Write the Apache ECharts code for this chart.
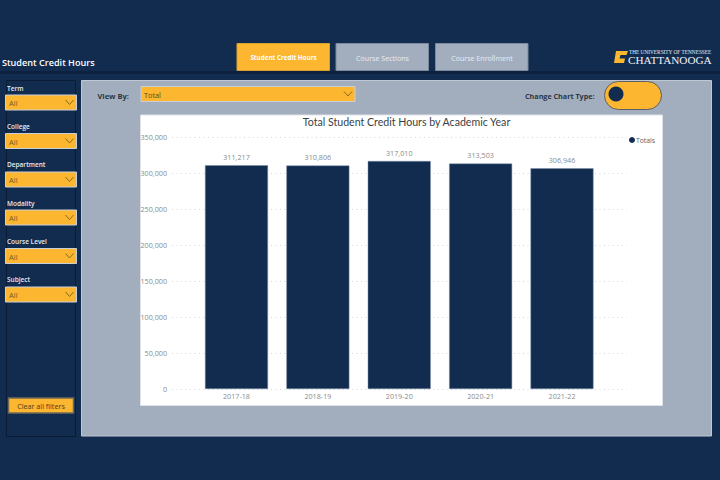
<!DOCTYPE html>
<html><head><meta charset="utf-8">
<style>html,body{margin:0;padding:0;background:#122c50}#c{width:720px;height:480px}</style>
<script src="https://cdn.jsdelivr.net/npm/echarts@6/dist/echarts.min.js"></script>
</head><body><div id="c"></div>
<script>
const categories = ['2017-18','2018-19','2019-20','2020-21','2021-22'];
const totals = [311217,310806,317010,313503,306946];
const seriesName = 'Totals';
const chartTitle = 'Total Student Credit Hours by Academic Year';
const slicerLabels = ['Term','College','Department','Modality','Course Level','Subject'];
const slicerValue = 'All';
const tabLabels = ['Student Credit Hours','Course Sections','Course Enrollment'];

const NAVY='#122c50', PANEL='#a2aebe', ORANGE='#fdb62f', FONT='"Open Sans","Noto Sans",sans-serif', GREY='#8b8b8b';
const g=[];
const rect=(x,y,w,h,fill,stroke,r,lw)=>g.push({type:'rect',z:-5,silent:true,shape:{x,y,width:w,height:h,r:r||0},style:{fill,stroke:stroke||null,lineWidth:lw||1}});
const txt=(x,y,text,size,fill,weight,align)=>g.push({type:'text',z:-1,silent:true,x,y,style:{text,fontSize:size,fill,fontWeight:weight||'normal',fontFamily:FONT,align:align||'left',verticalAlign:'middle'}});
const chev=(cx,cy)=>g.push({type:'polyline',z:-1,silent:true,shape:{points:[[cx-4,cy-2.5],[cx,cy+2],[cx+4,cy-2.5]]},style:{stroke:'#8a6a20',lineWidth:1,fill:null}});

// header
rect(0,71,720,3,'#0c2040');
txt(2,62.5,'Student Credit Hours',9.1,'#ffffff','600');
const tabX=[237,336,435.5];
tabLabels.forEach((t,i)=>{
  rect(tabX[i],43.5,92.5,27,i?PANEL:ORANGE,i?'#7d8a9c':'#d9a02c');
  txt(tabX[i]+46.5,57.5,t,i?7.1:6.3,i?'#e8ecf1':'#ffffff',i?'normal':'700','center');
});
// logo
g.push({type:'polygon',z:-1,silent:true,shape:{points:[[616,51],[628,51],[626.5,55],[620.5,55],[619.5,58.5],[625,58.5],[624,63],[614,63]]},style:{fill:ORANGE}});
txt(629,52,'THE UNIVERSITY OF TENNESSEE',5.3,'#e8ecf1','normal');
g[g.length-1].style.fontFamily='"Liberation Serif",serif';
txt(628,59.5,'CHATTANOOGA',11.2,'#f2f4f7','normal');
g[g.length-1].style.fontFamily='"Liberation Serif",serif';
// sidebar
rect(6.5,80.5,69,356,NAVY,'#0a1b36');
const labelY=[88,126.5,164.5,203,241,279], boxY=[95,133.5,172,210,248.5,287];
slicerLabels.forEach((t,i)=>{
  txt(7,labelY[i],t,6.5,'#e6eaf0','600');
  rect(5.5,boxY[i],71,15,ORANGE,'#c9cfd8');
  txt(9,boxY[i]+8,slicerValue,7.5,'#6b5a25');
  chev(69.5,boxY[i]+7.5);
});
rect(8.5,398,65,15,ORANGE,'#6f6a58',0,1.5);
txt(41,406,'Clear all filters',7.2,'#4a4020','normal','center');
// main panel
rect(81.5,80.5,630,355.5,PANEL,'#c0c8d3');
txt(97.5,95.5,'View By:',7.5,'#2c3645','700');
rect(141,86.5,214,15,ORANGE,'#c9cfd8');
txt(144,95,'Total',7.3,'#5a4c20');
chev(348,94);
txt(525,96,'Change Chart Type:',7.2,'#2c3645','700');
rect(604.5,81.5,57,28,ORANGE,'#5a5f66',14);
g.push({type:'circle',z:-1,silent:true,shape:{cx:616,cy:94,r:7.5},style:{fill:NAVY}});
rect(140.5,115,522,290.5,'#ffffff','#dfe3e9');

const chart=echarts.init(document.getElementById('c'),null,{renderer:'svg',width:720,height:480});
chart.setOption({
  animation:false,
  backgroundColor:NAVY,
  textStyle:{fontFamily:FONT},
  title:{text:chartTitle,left:401.5,top:116.5,textAlign:'center',textVerticalAlign:'middle',
    textStyle:{fontSize:10.6,fontWeight:'normal',color:'#3a3f47',fontFamily:'Lato,"Open Sans",sans-serif'}},
  legend:{data:[seriesName],left:629,top:136.5,icon:'circle',itemWidth:6,itemHeight:6,itemGap:0,padding:0,
    itemStyle:{borderWidth:0,color:NAVY},
    textStyle:{fontSize:6.8,color:'#555c66',padding:[0,0,0,-4],fontFamily:FONT}},
  graphic:g,
  grid:[
    {left:195.8,right:117.3,top:137.3,height:251.7},
    {left:172,right:93,top:137.3,height:251.7}
  ],
  xAxis:[
    {type:'category',gridIndex:0,data:categories,axisLine:{show:false},axisTick:{show:false},
     axisLabel:{fontSize:7.2,color:GREY,margin:3.5,fontFamily:FONT}},
    {type:'category',gridIndex:1,data:categories,show:false}
  ],
  yAxis:[
    {type:'value',gridIndex:0,min:0,max:350000,interval:50000,show:false,splitLine:{show:false}},
    {type:'value',gridIndex:1,min:0,max:350000,interval:50000,
     axisLine:{show:false},axisTick:{show:false},
     axisLabel:{fontSize:7.2,color:GREY,margin:5,fontFamily:FONT,formatter:v=>v.toLocaleString('en-US')},
     splitLine:{show:true,lineStyle:{type:[1,3.5],color:'#d2d4d8',width:1}}}
  ],
  series:[{name:seriesName,type:'bar',xAxisIndex:0,yAxisIndex:0,data:totals,barWidth:63,
    itemStyle:{color:NAVY,borderColor:'#7f8ea6',borderWidth:0.5},
    label:{show:true,position:'top',distance:5,fontSize:7.2,color:GREY,fontFamily:FONT,
      formatter:p=>p.value.toLocaleString('en-US')}}]
});
</script></body></html>
